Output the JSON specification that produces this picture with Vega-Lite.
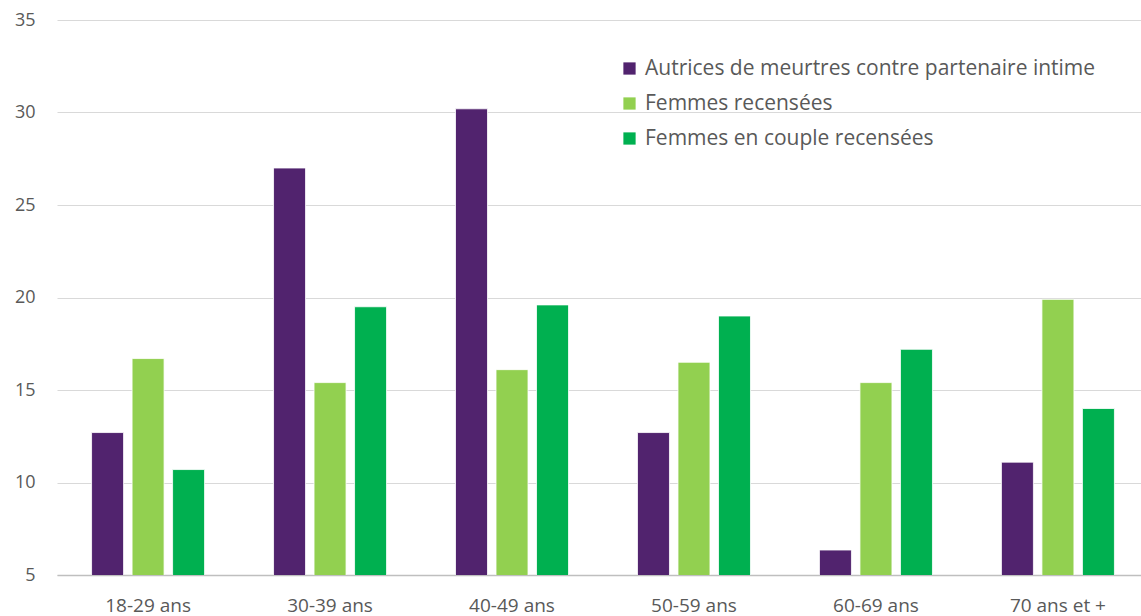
{
  "$schema": "https://vega.github.io/schema/vega-lite/v6.json",
  "width": 1092,
  "height": 555,
  "autosize": {"type": "none"},
  "padding": {"left": 57, "top": 20, "right": 0, "bottom": 41},
  "background": "white",
  "config": {
    "view": {"stroke": null},
    "font": "Open Sans",
    "axis": {"labelFont": "Open Sans", "labelColor": "#595959"}
  },
  "data": {
    "values": [
      {"age": "18-29 ans", "serie": "Autrices de meurtres contre partenaire intime", "v": 12.7},
      {"age": "18-29 ans", "serie": "Femmes recensées", "v": 16.7},
      {"age": "18-29 ans", "serie": "Femmes en couple recensées", "v": 10.7},
      {"age": "30-39 ans", "serie": "Autrices de meurtres contre partenaire intime", "v": 27.0},
      {"age": "30-39 ans", "serie": "Femmes recensées", "v": 15.4},
      {"age": "30-39 ans", "serie": "Femmes en couple recensées", "v": 19.5},
      {"age": "40-49 ans", "serie": "Autrices de meurtres contre partenaire intime", "v": 30.2},
      {"age": "40-49 ans", "serie": "Femmes recensées", "v": 16.1},
      {"age": "40-49 ans", "serie": "Femmes en couple recensées", "v": 19.6},
      {"age": "50-59 ans", "serie": "Autrices de meurtres contre partenaire intime", "v": 12.7},
      {"age": "50-59 ans", "serie": "Femmes recensées", "v": 16.5},
      {"age": "50-59 ans", "serie": "Femmes en couple recensées", "v": 19.0},
      {"age": "60-69 ans", "serie": "Autrices de meurtres contre partenaire intime", "v": 6.35},
      {"age": "60-69 ans", "serie": "Femmes recensées", "v": 15.4},
      {"age": "60-69 ans", "serie": "Femmes en couple recensées", "v": 17.2},
      {"age": "70 ans et +", "serie": "Autrices de meurtres contre partenaire intime", "v": 11.1},
      {"age": "70 ans et +", "serie": "Femmes recensées", "v": 19.9},
      {"age": "70 ans et +", "serie": "Femmes en couple recensées", "v": 14.0}
    ]
  },
  "mark": {"type": "bar", "stroke": "white", "strokeWidth": 0.8, "clip": true},
  "encoding": {
    "x": {
      "field": "age",
      "type": "nominal",
      "sort": null,
      "scale": {"paddingInner": 0.379, "paddingOuter": 0.19},
      "axis": {
        "title": null,
        "labelAngle": 0,
        "labelFontSize": 19,
        "labelPadding": 21,
        "ticks": false,
        "domain": true,
        "domainColor": "#bfbfbf",
        "domainWidth": 1.5
      }
    },
    "xOffset": {
      "field": "serie",
      "type": "nominal",
      "sort": ["Autrices de meurtres contre partenaire intime", "Femmes recensées", "Femmes en couple recensées"],
      "scale": {"paddingInner": 0.21, "paddingOuter": 0}
    },
    "y": {
      "field": "v",
      "type": "quantitative",
      "scale": {"domain": [5, 35], "nice": false, "zero": false},
      "axis": {
        "title": null,
        "values": [5, 10, 15, 20, 25, 30, 35],
        "labelFontSize": 18,
        "labelPadding": 22,
        "ticks": false,
        "domain": false,
        "gridColor": "#d9d9d9",
        "gridWidth": 1
      }
    },
    "color": {
      "field": "serie",
      "type": "nominal",
      "sort": ["Autrices de meurtres contre partenaire intime", "Femmes recensées", "Femmes en couple recensées"],
      "scale": {
        "domain": ["Autrices de meurtres contre partenaire intime", "Femmes recensées", "Femmes en couple recensées"],
        "range": ["#51236E", "#92D050", "#00B050"]
      },
      "legend": {
        "title": null,
        "orient": "none",
        "legendX": 562,
        "legendY": 38,
        "symbolType": "square",
        "symbolSize": 150,
        "symbolStrokeWidth": 0,
        "labelFontSize": 21,
        "labelColor": "#595959",
        "labelFont": "Open Sans",
        "labelLimit": 600,
        "rowPadding": 13,
        "labelOffset": 5
      }
    }
  }
}
